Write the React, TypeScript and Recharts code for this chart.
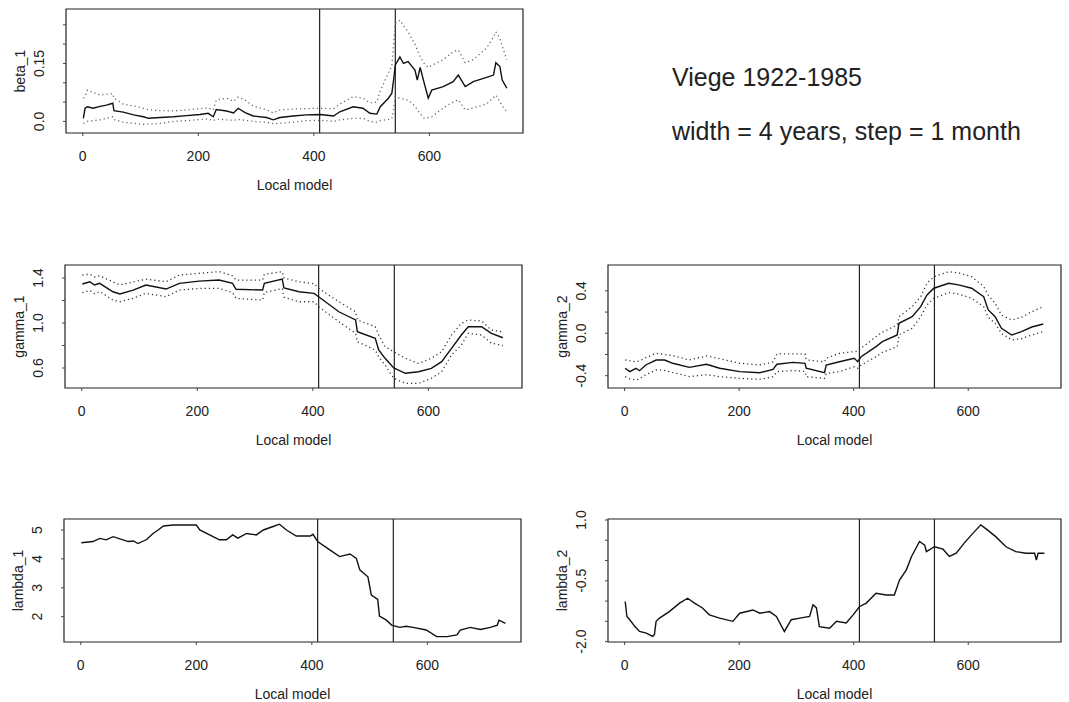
import React from "react";
import { LineChart, Line, XAxis, YAxis, ReferenceLine, ReferenceArea } from "recharts";

const FONT = "'Liberation Sans', Arial, Helvetica, sans-serif";
const INK = "#222";

const X_DOMAIN: [number, number] = [-29, 762];
const X_TICKS = [0, 200, 400, 600];
const BREAKS = [410, 541];

// beta_1
const beta1X = [1, 4, 8, 18, 30, 41, 52, 54, 70, 88, 105, 114, 134, 157, 180, 203, 217, 226, 231, 249, 261, 269, 281, 295, 318, 330, 341, 364, 387, 411, 434, 445, 468, 485, 497, 509, 515, 529, 535, 538, 541, 549, 555, 563, 575, 579, 584, 591, 598, 604, 624, 641, 650, 662, 676, 699, 711, 715, 722, 726, 734];
const beta1Est = [0.008, 0.034, 0.038, 0.034, 0.039, 0.042, 0.047, 0.028, 0.024, 0.017, 0.012, 0.008, 0.01, 0.012, 0.015, 0.018, 0.021, 0.012, 0.031, 0.027, 0.022, 0.034, 0.023, 0.014, 0.01, 0.004, 0.01, 0.014, 0.017, 0.018, 0.014, 0.025, 0.038, 0.034, 0.021, 0.019, 0.038, 0.06, 0.073, 0.107, 0.146, 0.167, 0.15, 0.155, 0.133, 0.107, 0.14, 0.099, 0.06, 0.081, 0.09, 0.103, 0.12, 0.09, 0.103, 0.114, 0.12, 0.152, 0.142, 0.107, 0.086];
const beta1Hi = [0.06, 0.064, 0.081, 0.075, 0.068, 0.07, 0.072, 0.06, 0.045, 0.04, 0.034, 0.03, 0.028, 0.027, 0.03, 0.033, 0.035, 0.03, 0.055, 0.06, 0.052, 0.063, 0.055, 0.04, 0.03, 0.022, 0.03, 0.032, 0.033, 0.034, 0.033, 0.045, 0.064, 0.06, 0.048, 0.05, 0.08, 0.125, 0.145, 0.2, 0.254, 0.262, 0.248, 0.232, 0.2, 0.185, 0.168, 0.15, 0.14, 0.145, 0.16, 0.18, 0.185, 0.152, 0.16, 0.19, 0.219, 0.232, 0.215, 0.195, 0.16];
const beta1Lo = [-0.005, -0.004, 0, 0.002, 0.004, 0.008, 0.012, 0.005, -0.002, -0.005, -0.008, -0.007, -0.005, 0, 0.002, 0.005, 0.006, 0.002, 0.006, 0.004, 0.003, 0.005, 0.003, 0, -0.002, -0.006, -0.005, -0.002, 0.002, 0.003, 0, 0.004, 0.008, 0.008, 0, -0.002, 0.002, 0.005, 0.007, 0.03, 0.064, 0.06, 0.058, 0.055, 0.04, 0.03, 0.02, 0.008, 0.01, 0.012, 0.035, 0.05, 0.056, 0.03, 0.035, 0.045, 0.062, 0.068, 0.051, 0.04, 0.025];

// gamma_1
const gamma1X = [1, 14, 22, 31, 54, 66, 89, 111, 146, 169, 203, 238, 261, 267, 313, 316, 347, 350, 376, 402, 410, 445, 474, 477, 508, 514, 525, 540, 560, 583, 605, 623, 640, 657, 669, 692, 709, 729];
const gamma1Est = [1.347, 1.367, 1.338, 1.353, 1.278, 1.258, 1.293, 1.338, 1.302, 1.353, 1.373, 1.382, 1.353, 1.3, 1.293, 1.353, 1.391, 1.311, 1.278, 1.264, 1.234, 1.1, 1.027, 0.923, 0.864, 0.76, 0.686, 0.6, 0.553, 0.567, 0.597, 0.656, 0.775, 0.893, 0.967, 0.967, 0.908, 0.869];
const gamma1Hi = [1.427, 1.435, 1.41, 1.42, 1.367, 1.338, 1.365, 1.39, 1.367, 1.427, 1.442, 1.457, 1.42, 1.382, 1.382, 1.433, 1.457, 1.4, 1.367, 1.35, 1.308, 1.189, 1.1, 1.027, 0.967, 0.893, 0.789, 0.745, 0.686, 0.64, 0.686, 0.745, 0.893, 0.997, 1.027, 1.018, 0.938, 0.92];
const gamma1Lo = [1.27, 1.29, 1.26, 1.28, 1.204, 1.189, 1.22, 1.264, 1.234, 1.293, 1.308, 1.308, 1.27, 1.219, 1.204, 1.27, 1.308, 1.23, 1.189, 1.189, 1.145, 1.012, 0.908, 0.834, 0.76, 0.7, 0.627, 0.508, 0.464, 0.464, 0.508, 0.567, 0.716, 0.804, 0.908, 0.893, 0.82, 0.8];

// gamma_2
const gamma2X = [1, 9, 20, 26, 37, 55, 70, 84, 113, 143, 166, 201, 236, 259, 266, 294, 315, 317, 349, 352, 375, 401, 407, 413, 439, 450, 476, 479, 502, 517, 528, 540, 566, 583, 606, 627, 635, 647, 658, 676, 693, 711, 731];
const gamma2Est = [-0.33, -0.362, -0.33, -0.353, -0.299, -0.252, -0.252, -0.283, -0.321, -0.292, -0.33, -0.362, -0.372, -0.34, -0.292, -0.274, -0.283, -0.33, -0.372, -0.299, -0.268, -0.236, -0.268, -0.221, -0.126, -0.079, -0.016, 0.094, 0.157, 0.251, 0.361, 0.425, 0.472, 0.456, 0.425, 0.345, 0.22, 0.157, 0.047, -0.016, 0.015, 0.059, 0.088];
const gamma2Hi = [-0.252, -0.26, -0.27, -0.26, -0.23, -0.189, -0.2, -0.21, -0.252, -0.214, -0.24, -0.283, -0.299, -0.27, -0.195, -0.195, -0.195, -0.25, -0.27, -0.236, -0.189, -0.173, -0.17, -0.142, -0.032, 0.01, 0.078, 0.157, 0.251, 0.345, 0.472, 0.534, 0.581, 0.57, 0.534, 0.44, 0.36, 0.283, 0.173, 0.125, 0.15, 0.204, 0.251];
const gamma2Lo = [-0.409, -0.43, -0.44, -0.43, -0.39, -0.346, -0.35, -0.37, -0.409, -0.39, -0.409, -0.425, -0.434, -0.41, -0.362, -0.35, -0.36, -0.409, -0.425, -0.38, -0.362, -0.315, -0.33, -0.3, -0.221, -0.18, -0.126, -0.016, 0.047, 0.157, 0.267, 0.33, 0.383, 0.37, 0.33, 0.251, 0.15, 0.094, 0, -0.063, -0.05, -0.016, 0.015];

// lambda_1
const lambda1X = [1, 21, 33, 44, 56, 73, 82, 91, 99, 114, 125, 134, 143, 160, 183, 200, 206, 229, 240, 252, 263, 272, 287, 304, 316, 333, 344, 356, 373, 397, 402, 410, 431, 448, 466, 477, 483, 497, 503, 514, 517, 529, 538, 552, 563, 575, 598, 616, 634, 651, 657, 674, 692, 709, 721, 724, 735];
const lambda1Est = [4.56, 4.6, 4.71, 4.66, 4.77, 4.66, 4.6, 4.62, 4.53, 4.67, 4.88, 5.0, 5.14, 5.17, 5.17, 5.17, 5.0, 4.77, 4.66, 4.66, 4.83, 4.72, 4.88, 4.83, 5.0, 5.12, 5.2, 5.0, 4.79, 4.79, 4.85, 4.6, 4.31, 4.08, 4.17, 4.02, 3.62, 3.38, 2.75, 2.6, 2.02, 1.88, 1.71, 1.63, 1.67, 1.63, 1.54, 1.31, 1.31, 1.37, 1.54, 1.63, 1.56, 1.63, 1.71, 1.88, 1.77];

// lambda_2
const lambda2X = [1, 4, 9, 18, 26, 38, 49, 52, 55, 61, 78, 96, 110, 122, 136, 148, 166, 189, 201, 224, 236, 253, 265, 279, 291, 306, 323, 329, 335, 340, 358, 370, 387, 399, 410, 422, 439, 457, 471, 480, 492, 501, 515, 524, 527, 541, 556, 567, 579, 593, 608, 622, 634, 648, 666, 683, 701, 716, 719, 722, 733];
const lambda2Est = [-1.01, -1.38, -1.46, -1.63, -1.75, -1.79, -1.87, -1.83, -1.5, -1.42, -1.26, -1.05, -0.93, -1.05, -1.17, -1.34, -1.42, -1.5, -1.3, -1.22, -1.3, -1.26, -1.38, -1.75, -1.46, -1.42, -1.38, -1.09, -1.17, -1.63, -1.67, -1.5, -1.54, -1.34, -1.14, -1.05, -0.81, -0.85, -0.85, -0.48, -0.23, 0.1, 0.47, 0.38, 0.22, 0.34, 0.28, 0.1, 0.18, 0.43, 0.67, 0.88, 0.75, 0.59, 0.34, 0.22, 0.18, 0.18, 0.01, 0.18, 0.18];

type TickLabel = [number, string];

interface PanelProps {
  left: number;
  top: number;
  w: number;
  h: number;
  yDomain: [number, number];
  yTicks: number[];
  yLabels: TickLabel[];
  yTitle: string;
  xs: number[];
  est: number[];
  hi?: number[];
  lo?: number[];
  bandColor?: string;
}

const YW = 70;
const XH = 70;
const PAD_T = 22;
const PAD_R = 4;

function Panel({ left, top, w, h, yDomain, yTicks, yLabels, yTitle, xs, est, hi, lo, bandColor = "#333" }: PanelProps) {
  const data = xs.map((x, i) => ({ x, est: est[i], hi: hi ? hi[i] : null, lo: lo ? lo[i] : null }));
  const plotBottom = PAD_T + h;
  const cw = YW + w + PAD_R;
  const ch = PAD_T + h + XH;

  const xTick = (p: any) => (
    <text x={p.x} y={plotBottom + 23} textAnchor="middle" dominantBaseline="central" fontSize={14} fill={INK} fontFamily={FONT}>
      {p.payload.value}
    </text>
  );
  const yTick = (p: any) => {
    const hit = yLabels.find(([v]) => Math.abs(v - p.payload.value) < 1e-9);
    if (!hit) return <g />;
    const cx = YW - 27;
    return (
      <text x={cx} y={p.y} transform={`rotate(-90 ${cx} ${p.y})`} textAnchor="middle" dominantBaseline="central" fontSize={14} fill={INK} fontFamily={FONT}>
        {hit[1]}
      </text>
    );
  };

  return (
    <div style={{ position: "absolute", left: left - YW, top: top - PAD_T, width: cw, height: ch }}>
      <LineChart width={cw} height={ch} data={data} margin={{ top: PAD_T, right: PAD_R, left: 0, bottom: 0 }}>
        <XAxis type="number" dataKey="x" domain={X_DOMAIN} ticks={X_TICKS} allowDataOverflow height={XH}
          axisLine={false} tickLine={{ stroke: "#444" }} tickSize={3} tick={xTick} interval={0} />
        <YAxis type="number" domain={yDomain} ticks={yTicks} allowDataOverflow width={YW}
          axisLine={false} tickLine={{ stroke: "#444" }} tickSize={3} tick={yTick} interval={0} />
        <ReferenceArea x1={X_DOMAIN[0]} x2={X_DOMAIN[1]} y1={yDomain[0]} y2={yDomain[1]} fill="none" fillOpacity={0}
          stroke="#222" strokeWidth={1.2} ifOverflow="visible" />
        {BREAKS.map((b) => (
          <ReferenceLine key={b} x={b} stroke="#222" strokeWidth={1.2} ifOverflow="visible" />
        ))}
        {hi && (
          <Line dataKey="hi" type="linear" stroke={bandColor} strokeWidth={1.3} strokeDasharray="1.2 3" dot={false} isAnimationActive={false} />
        )}
        {lo && (
          <Line dataKey="lo" type="linear" stroke={bandColor} strokeWidth={1.3} strokeDasharray="1.2 3" dot={false} isAnimationActive={false} />
        )}
        <Line dataKey="est" type="linear" stroke="#111" strokeWidth={1.4} dot={false} isAnimationActive={false} />
      </LineChart>
      <svg width={cw} height={ch} style={{ position: "absolute", left: 0, top: 0, pointerEvents: "none" }}>
        <text x={YW + w / 2} y={plotBottom + 52} textAnchor="middle" dominantBaseline="central" fontSize={14} fill={INK} fontFamily={FONT}>
          Local model
        </text>
        <text x={YW - 46} y={PAD_T + h / 2} transform={`rotate(-90 ${YW - 46} ${PAD_T + h / 2})`} textAnchor="middle" dominantBaseline="central"
          fontSize={14} fill={INK} fontFamily={FONT}>
          {yTitle}
        </text>
      </svg>
    </div>
  );
}

export default function App() {
  return (
    <div style={{ position: "absolute", left: 0, top: 0, width: 1069, height: 702, background: "#fff", overflow: "hidden", fontFamily: FONT }}>
      <Panel left={66} top={9} w={457} h={124} yDomain={[-0.03, 0.291]} yTicks={[0, 0.05, 0.1, 0.15, 0.2, 0.25]}
        yLabels={[[0, "0.0"], [0.15, "0.15"]]} yTitle="beta_1" xs={beta1X} est={beta1Est} hi={beta1Hi} lo={beta1Lo} bandColor="#666" />
      <Panel left={65} top={265} w={457} h={123} yDomain={[0.422, 1.516]} yTicks={[0.6, 0.8, 1.0, 1.2, 1.4]}
        yLabels={[[0.6, "0.6"], [1.0, "1.0"], [1.4, "1.4"]]} yTitle="gamma_1" xs={gamma1X} est={gamma1Est} hi={gamma1Hi} lo={gamma1Lo} />
      <Panel left={608} top={265} w={453} h={123} yDomain={[-0.516, 0.644]} yTicks={[-0.4, -0.2, 0, 0.2, 0.4]}
        yLabels={[[-0.4, "-0.4"], [0, "0.0"], [0.4, "0.4"]]} yTitle="gamma_2" xs={gamma2X} est={gamma2Est} hi={gamma2Hi} lo={gamma2Lo} />
      <Panel left={64} top={519} w={457} h={123} yDomain={[1.125, 5.38]} yTicks={[2, 3, 4, 5]}
        yLabels={[[2, "2"], [3, "3"], [4, "4"], [5, "5"]]} yTitle="lambda_1" xs={lambda1X} est={lambda1Est} />
      <Panel left={608} top={519} w={453} h={123} yDomain={[-2.01, 1.025]} yTicks={[-2, -1.5, -1, -0.5, 0, 0.5, 1]}
        yLabels={[[-2, "-2.0"], [-0.5, "-0.5"], [1, "1.0"]]} yTitle="lambda_2" xs={lambda2X} est={lambda2Est} />
      <div style={{ position: "absolute", left: 672, top: 62, fontSize: 25, color: INK, whiteSpace: "nowrap", lineHeight: "30px" }}>
        Viege 1922-1985
      </div>
      <div style={{ position: "absolute", left: 672, top: 116, fontSize: 25, color: INK, whiteSpace: "nowrap", lineHeight: "30px" }}>
        width = 4 years, step = 1 month
      </div>
    </div>
  );
}
